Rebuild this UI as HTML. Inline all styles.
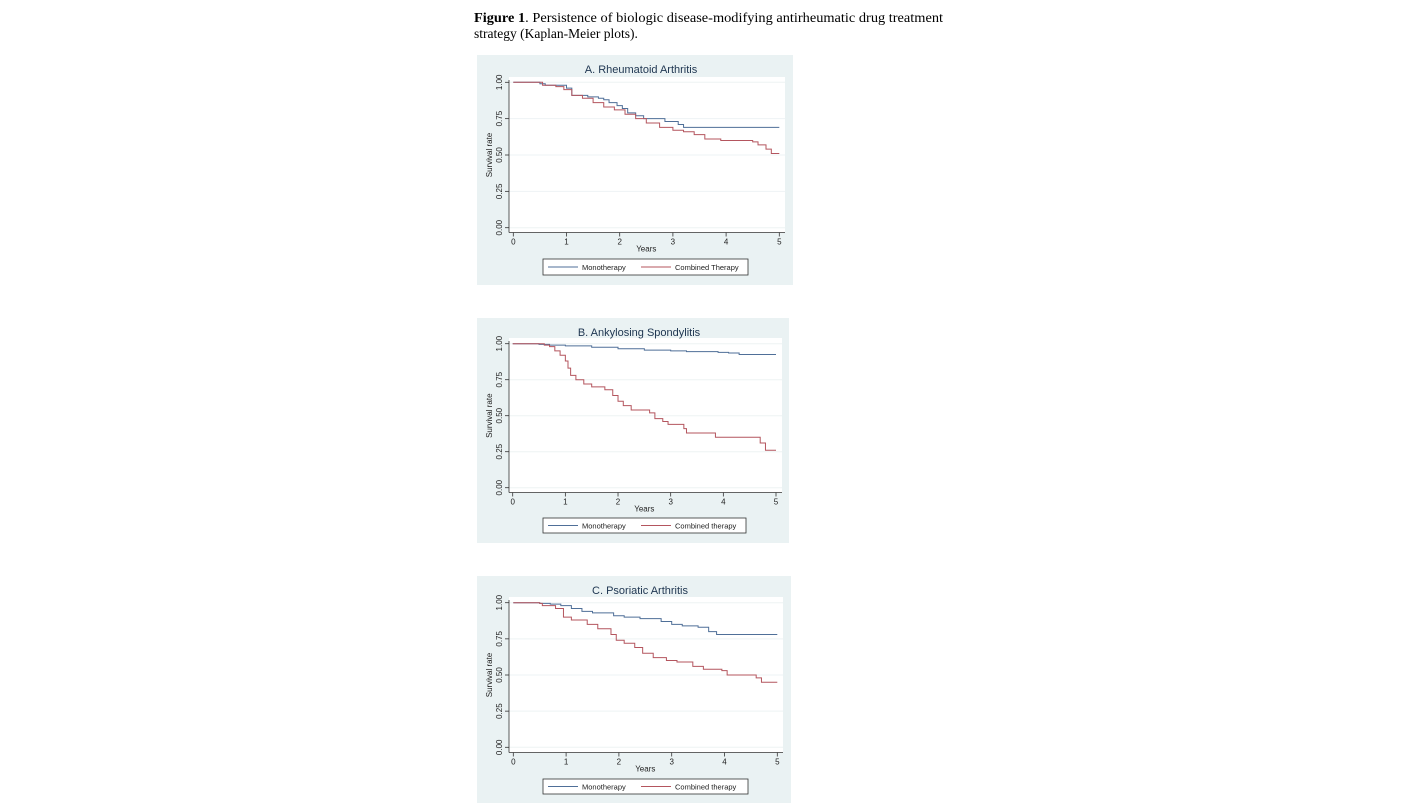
<!DOCTYPE html>
<html><head><meta charset="utf-8"><style>
html,body{margin:0;padding:0;background:#fff;}
svg{display:block;}
</style></head><body>
<svg id="fig" width="1416" height="811" xmlns="http://www.w3.org/2000/svg">
<text x="474" y="22" font-family="Liberation Serif, serif" font-size="13.5" textLength="469" lengthAdjust="spacingAndGlyphs"><tspan font-weight="bold">Figure 1</tspan>. Persistence of biologic disease-modifying antirheumatic drug treatment</text>
<text x="474" y="38" font-family="Liberation Serif, serif" font-size="13.5">strategy (Kaplan-Meier plots).</text>
</svg>
<script>
// Panel A: Rheumatoid Arthritis
const aMonoT=[0,0.45,0.5,0.6,1.0,1.1,1.4,1.6,1.7,1.8,1.95,2.05,2.15,2.3,2.45,2.85,3.1,3.2,5];
const aMonoS=[1,1,0.99,0.98,0.96,0.91,0.90,0.89,0.88,0.86,0.84,0.82,0.79,0.77,0.75,0.73,0.71,0.69,0.69];
const aCombT=[0,0.45,0.55,0.8,0.95,1.1,1.3,1.5,1.7,1.9,2.1,2.3,2.5,2.75,3.0,3.2,3.4,3.6,3.9,4.5,4.6,4.75,4.85,5];
const aCombS=[1,1,0.98,0.97,0.95,0.91,0.89,0.86,0.83,0.81,0.78,0.75,0.72,0.69,0.67,0.66,0.64,0.61,0.60,0.59,0.57,0.54,0.51,0.51];
// Panel B: Ankylosing Spondylitis
const bMonoT=[0,0.5,0.7,1,1.5,2,2.5,3,3.3,3.9,4.1,4.3,5];
const bMonoS=[1,0.995,0.99,0.985,0.975,0.965,0.955,0.95,0.945,0.94,0.935,0.925,0.925];
const bCombT=[0,0.6,0.7,0.8,0.9,1.0,1.05,1.1,1.2,1.35,1.5,1.75,1.9,2.0,2.1,2.25,2.6,2.7,2.85,2.95,3.25,3.3,3.85,4.7,4.8,5];
const bCombS=[1,0.99,0.98,0.95,0.92,0.88,0.83,0.78,0.75,0.72,0.70,0.68,0.64,0.60,0.57,0.54,0.52,0.48,0.46,0.44,0.41,0.38,0.35,0.31,0.26,0.26];
// Panel C: Psoriatic Arthritis
const cMonoT=[0,0.5,0.7,0.9,1.1,1.3,1.5,1.9,2.1,2.4,2.8,3.0,3.2,3.5,3.7,3.85,5];
const cMonoS=[1,0.995,0.99,0.98,0.96,0.94,0.93,0.91,0.90,0.89,0.87,0.85,0.84,0.83,0.80,0.78,0.78];
const cCombT=[0,0.5,0.55,0.8,0.95,1.1,1.4,1.6,1.85,1.95,2.1,2.3,2.45,2.65,2.9,3.1,3.4,3.6,3.95,4.05,4.6,4.7,5];
const cCombS=[1,0.995,0.98,0.96,0.90,0.88,0.85,0.82,0.78,0.74,0.72,0.69,0.65,0.62,0.60,0.59,0.56,0.54,0.53,0.50,0.48,0.45,0.45];
const xTicks=[0,1,2,3,4,5];
const yTicks=[0,0.25,0.5,0.75,1];
const yTickLabels=["0.00","0.25","0.50","0.75","1.00"];

const NS="http://www.w3.org/2000/svg";
const svg=document.getElementById('fig');
function mk(tag,attrs,parent){const e=document.createElementNS(NS,tag);for(const k in attrs)e.setAttribute(k,attrs[k]);(parent||svg).appendChild(e);return e;}

const panels=[
 {key:'a',title:'A. Rheumatoid Arthritis',comb:'Combined Therapy',bg:[477,55,316,230],x0:513.3,x5:779.3,y1:82.3,y0:227.7,axY:232.5,axX:509,plotR:785,plotT:77,leg:[543,259,205,16],mT:aMonoT,mS:aMonoS,cT:aCombT,cS:aCombS},
 {key:'b',title:'B. Ankylosing Spondylitis',comb:'Combined therapy',bg:[477,318,312,225],x0:512.7,x5:776,y1:343.7,y0:487.7,axY:492.5,axX:509,plotR:782,plotT:338,leg:[543,518,203,15],mT:bMonoT,mS:bMonoS,cT:bCombT,cS:bCombS},
 {key:'c',title:'C. Psoriatic Arthritis',comb:'Combined therapy',bg:[477,576,314,227],x0:513.3,x5:777.3,y1:602.7,y0:747.3,axY:752.5,axX:509,plotR:783,plotT:597,leg:[543,779,205,15],mT:cMonoT,mS:cMonoS,cT:cCombT,cS:cCombS}
];
const MONO='#4f6f98', COMB='#b4555e';
panels.forEach(p=>{
 const g=mk('g',{});
 
 
 const xs=t=>p.x0+(p.x5-p.x0)*t/5;
 const ys=s=>p.y0-(p.y0-p.y1)*s;
 const bg=mk('rect',{x:p.bg[0],y:p.bg[1],width:p.bg[2],height:p.bg[3],fill:'#eaf2f3'},g);
 
 
 const pa=mk('rect',{x:p.axX,y:p.plotT,width:p.plotR-p.axX,height:p.axY-p.plotT,fill:'#fff'},g);
 
 
 const tt=mk('text',{x:(p.bg[0]+p.bg[0]+p.bg[2])/2+6,y:p.bg[1]+18,'text-anchor':'middle','font-family':'Liberation Sans, sans-serif','font-size':'11',fill:'#1e3550'},g);
 tt.textContent=p.title;
 
 
 yTicks.forEach((v,i)=>{
  const y=ys(v);
  const gl=mk('line',{x1:p.axX,x2:p.plotR,y1:y,y2:y,stroke:'#eef3f4','stroke-width':1},g);
  
  
  mk('line',{x1:p.axX-4,x2:p.axX,y1:y,y2:y,stroke:'#333','stroke-width':0.8},g);
  const tl=mk('text',{x:0,y:0,transform:`translate(${p.axX-7},${y}) rotate(-90)`,'text-anchor':'middle','font-family':'Liberation Sans, sans-serif','font-size':'8',fill:'#222'},g);
  tl.textContent=yTickLabels[i];
  
  
 });
 mk('line',{x1:p.axX,x2:p.axX,y1:p.plotT+3,y2:p.axY,stroke:'#333','stroke-width':0.8},g);
 mk('line',{x1:p.axX,x2:p.plotR,y1:p.axY,y2:p.axY,stroke:'#333','stroke-width':0.8},g);
 xTicks.forEach(v=>{
  const x=xs(v);
  mk('line',{x1:x,x2:x,y1:p.axY,y2:p.axY+4,stroke:'#333','stroke-width':0.8},g);
  const tl=mk('text',{x:x,y:p.axY+12,'text-anchor':'middle','font-family':'Liberation Sans, sans-serif','font-size':'8',fill:'#222'},g);
  tl.textContent=v;
  
  
 });
 const xt=mk('text',{x:(p.x0+p.x5)/2,y:p.axY+19,'text-anchor':'middle','font-family':'Liberation Sans, sans-serif','font-size':'8',fill:'#222'},g);
 xt.textContent='Years';
 
 
 const yt=mk('text',{x:0,y:0,transform:`translate(${p.axX-17},${(p.y0+p.y1)/2}) rotate(-90)`,'text-anchor':'middle','font-family':'Liberation Sans, sans-serif','font-size':'8',fill:'#222'},g);
 yt.textContent='Survival rate';
 
 
 function step(T,S,color,name){
  let d='M'+xs(T[0])+','+ys(S[0]);
  for(let i=1;i<T.length;i++){d+=' H'+xs(T[i])+' V'+ys(S[i]);}
  const pth=mk('path',{d:d,fill:'none',stroke:color,'stroke-width':1},g);
  
  
 }
 step(p.mT,p.mS,MONO,'monotherapy-curve');
 step(p.cT,p.cS,COMB,'combined-therapy-curve');
 const L=p.leg;
 const lg=mk('g',{},g);
 
 
 mk('rect',{x:L[0],y:L[1],width:L[2],height:L[3],fill:'#fff',stroke:'#333','stroke-width':0.8},lg);
 const cy=L[1]+L[3]/2;
 mk('line',{x1:L[0]+5,x2:L[0]+35,y1:cy,y2:cy,stroke:MONO,'stroke-width':1},lg);
 const t1=mk('text',{x:L[0]+39,y:cy+3,'font-family':'Liberation Sans, sans-serif','font-size':'7.5',fill:'#222'},lg);
 t1.textContent='Monotherapy';
 
 
 mk('line',{x1:L[0]+98,x2:L[0]+128,y1:cy,y2:cy,stroke:COMB,'stroke-width':1},lg);
 const t2=mk('text',{x:L[0]+132,y:cy+3,'font-family':'Liberation Sans, sans-serif','font-size':'7.5',fill:'#222'},lg);
 t2.textContent=p.comb;
 
 
});
</script>
</body></html>
